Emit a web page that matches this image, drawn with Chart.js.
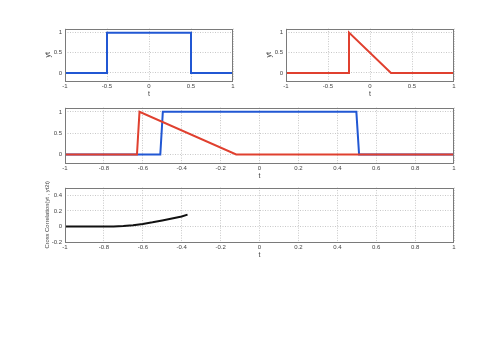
<!DOCTYPE html>
<html><head><meta charset="utf-8">
<script src="https://cdn.jsdelivr.net/npm/chart.js@4"></script>
<style>
html,body{margin:0;padding:0;background:#fff;width:500px;height:359px;overflow:hidden;}
canvas{position:absolute;}
</style></head>
<body>
<canvas id="c1"></canvas><canvas id="c2"></canvas><canvas id="c3"></canvas><canvas id="c4"></canvas>
<script>
// ---- data ----
const p1X = [-1, -0.5, -0.5, 0.5, 0.5, 1];
const p1Y = [0, 0, 1, 1, 0, 0];
const p2X = [-1, -0.25, -0.25, 0.25, 1];
const p2Y = [0, 0, 1, 0, 0];
const p3RedX = [-1, -0.63, -0.617, -0.12, 1];
const p3RedY = [0, 0, 1, 0, 0];
const p3BlueX = [-1, -0.51, -0.497, 0.498, 0.512, 1];
const p3BlueY = [0, 0, 1, 1, 0, 0];
const p4X = [-1, -0.9, -0.8, -0.75, -0.7, -0.65, -0.6, -0.55, -0.5, -0.45, -0.4, -0.37];
const p4Y = [0, 0, 0, 0, 0.006, 0.017, 0.032, 0.053, 0.077, 0.102, 0.128, 0.152];
const ticksXTop = [-1, -0.5, 0, 0.5, 1];
const ticksXWide = [-1, -0.8, -0.6, -0.4, -0.2, 0, 0.2, 0.4, 0.6, 0.8, 1];
const ticksYStep = [0, 0.5, 1];
const ticksYCorr = [-0.2, 0, 0.2, 0.4];

const BLUE = '#2157d3', RED = '#e0402f', BLACK = '#111';
const pts = (xs, ys) => xs.map((x, i) => ({x, y: ys[i]}));

const boxPlugin = {
  id: 'box',
  afterDraw(chart) {
    const {ctx, chartArea: a} = chart;
    ctx.save();
    ctx.strokeStyle = '#7a7a7a';
    ctx.lineWidth = 1;
    ctx.strokeRect(Math.round(a.left) + 0.5, Math.round(a.top) + 0.5,
                   Math.round(a.right - a.left) - 1, Math.round(a.bottom - a.top));
    ctx.restore();
  }
};

function make(id, geom, datasets, xt, yt, ymin, ymax, ytitle, ytSize) {
  const cv = document.getElementById(id);
  const yW = 21, padT = 5, padR = 4, xH = 17, padB = 4;
  const w = yW + geom.W + padR, h = padT + geom.H + xH + padB;
  cv.width = w; cv.height = h;
  cv.style.left = (geom.L - yW) + 'px';
  cv.style.top = (geom.T - padT) + 'px';
  cv.style.width = w + 'px'; cv.style.height = h + 'px';
  const font = {family: 'Liberation Sans, Arial, sans-serif', size: 6};
  const tfont = {family: 'Liberation Sans, Arial, sans-serif', size: 7};
  const yfont = {family: 'Liberation Sans, Arial, sans-serif', size: ytSize || 7};
  new Chart(cv, {
    type: 'scatter',
    data: {datasets: datasets.map(d => ({
      data: pts(d.x, d.y), showLine: true, borderColor: d.c, backgroundColor: d.c,
      borderWidth: 2, pointRadius: 0, tension: 0
    }))},
    options: {
      responsive: false, animation: false, devicePixelRatio: 1,
      layout: {padding: {top: padT, right: padR, bottom: padB, left: 0}},
      plugins: {legend: {display: false}, tooltip: {enabled: false}},
      scales: {
        x: {
          type: 'linear', min: -1, max: 1,
          afterBuildTicks: s => { s.ticks = xt.map(v => ({value: v})); },
          afterFit: s => { s.height = xH; },
          ticks: {font, color: '#444', padding: 2, maxRotation: 0, autoSkip: false,
                  callback: v => String(v)},
          grid: {color: '#c8c8c8', drawTicks: false, tickLength: 0},
          border: {display: false, dash: [1, 1.5]},
          title: {display: true, text: 't', font: tfont, color: '#444', padding: 0}
        },
        y: {
          type: 'linear', min: ymin, max: ymax,
          afterBuildTicks: s => { s.ticks = yt.map(v => ({value: v})); },
          afterFit: s => { s.width = yW; },
          ticks: {font, color: '#444', padding: 3, autoSkip: false,
                  callback: v => String(v)},
          grid: {color: '#c8c8c8', drawTicks: false, tickLength: 0},
          border: {display: false, dash: [1, 1.5]},
          title: {display: !!ytitle, text: ytitle || '', font: yfont, color: '#444', padding: 0}
        }
      }
    },
    plugins: [boxPlugin]
  });
}

make('c1', {L: 65, T: 27, W: 168, H: 54},
  [{x: p1X, y: p1Y, c: BLUE}], ticksXTop, ticksYStep, -0.2, 1.1, 'yt');
make('c2', {L: 286, T: 27, W: 168, H: 54},
  [{x: p2X, y: p2Y, c: RED}], ticksXTop, ticksYStep, -0.2, 1.1, 'yt');
make('c3', {L: 65, T: 106, W: 389, H: 57},
  [{x: p3RedX, y: p3RedY, c: RED}, {x: p3BlueX, y: p3BlueY, c: BLUE}], ticksXWide, ticksYStep, -0.2, 1.1, '');
make('c4', {L: 65, T: 186, W: 389, H: 56},
  [{x: p4X, y: p4Y, c: BLACK}], ticksXWide, ticksYCorr, -0.2, 0.5, 'Cross Correlation(yt , yt2t)', 5.8);
</script>
</body></html>
